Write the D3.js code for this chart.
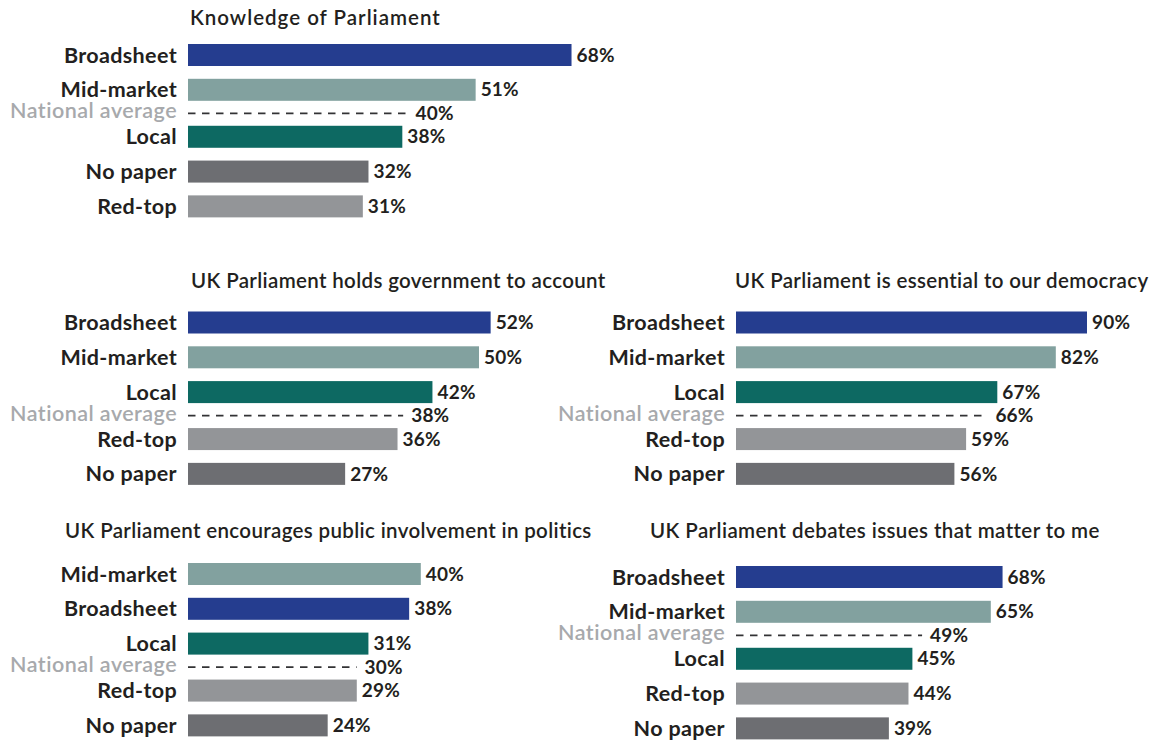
<!DOCTYPE html>
<html>
<head>
<meta charset="utf-8">
<script src="https://cdn.jsdelivr.net/npm/d3@7"></script>
<style>
  html, body { margin: 0; padding: 0; background: #ffffff; }
  svg { display: block; }
  text { font-family: Lato, "Open Sans", sans-serif; }
</style>
</head>
<body>
<svg id="chart" width="1159" height="740"></svg>
<script>
// ---- data ----
const AVG = "National average";

const knowledgeTitle = "Knowledge of Parliament";
const knowledgeCats = ["Broadsheet", "Mid-market", AVG, "Local", "No paper", "Red-top"];
const knowledgeVals = [68, 51, 40, 38, 32, 31];

const accountTitle = "UK Parliament holds government to account";
const accountCats = ["Broadsheet", "Mid-market", "Local", AVG, "Red-top", "No paper"];
const accountVals = [52, 50, 42, 38, 36, 27];

const essentialTitle = "UK Parliament is essential to our democracy";
const essentialCats = ["Broadsheet", "Mid-market", "Local", AVG, "Red-top", "No paper"];
const essentialVals = [90, 82, 67, 66, 59, 56];

const involveTitle = "UK Parliament encourages public involvement in politics";
const involveCats = ["Mid-market", "Broadsheet", "Local", AVG, "Red-top", "No paper"];
const involveVals = [40, 38, 31, 30, 29, 24];

const debatesTitle = "UK Parliament debates issues that matter to me";
const debatesCats = ["Broadsheet", "Mid-market", AVG, "Local", "Red-top", "No paper"];
const debatesVals = [68, 65, 49, 45, 44, 39];

const colors = {
  "Broadsheet": "#253d8f",
  "Mid-market": "#82a19f",
  "Local": "#0d6962",
  "No paper": "#6d6e72",
  "Red-top": "#939598"
};

// ---- layout ----
const panels = [
  { title: knowledgeTitle, cats: knowledgeCats, vals: knowledgeVals, x0: 188, full: 564, titleX: 190, titleY: 25, y0: 55, titleLS: 1.0 },
  { title: accountTitle, cats: accountCats, vals: accountVals, x0: 188, full: 582, titleX: 191, titleY: 288, y0: 322.5, titleLS: 0.35 },
  { title: essentialTitle, cats: essentialCats, vals: essentialVals, x0: 736, full: 390, titleX: 735, titleY: 288, y0: 322.5, titleLS: 0.35 },
  { title: involveTitle, cats: involveCats, vals: involveVals, x0: 188, full: 582, titleX: 65, titleY: 538, y0: 574, titleLS: 0.35 },
  { title: debatesTitle, cats: debatesCats, vals: debatesVals, x0: 736, full: 392, titleX: 650, titleY: 538, y0: 577, titleLS: 0.4 }
];

const svg = d3.select("#chart");
const rowStep = 34.8, barH = 22, avgGap = 0.675;
const textColor = "#231f20";

panels.forEach(p => {
  const x = d3.scaleLinear().domain([0, 100]).range([p.x0, p.x0 + p.full]);
  // slot positions: bars one slot apart, average line sits in a smaller gap
  let slot = 0;
  const rows = p.cats.map((c, i) => {
    if (i > 0) {
      const prevAvg = p.cats[i - 1] === AVG;
      slot += (c === AVG || prevAvg) ? avgGap : 1;
    }
    return { cat: c, val: p.vals[i], slot: slot };
  });
  const y = d3.scaleLinear().domain([0, 1]).range([p.y0, p.y0 + rowStep]);

  const g = svg.append("g");

  g.append("text")
    .attr("x", p.titleX).attr("y", p.titleY)
    .attr("font-size", 20.5).attr("font-weight", 600)
    .attr("letter-spacing", p.titleLS)
    .attr("fill", textColor)
    .text(p.title);

  const bars = rows.filter(r => r.cat !== AVG);
  const avg = rows.find(r => r.cat === AVG);

  g.selectAll("rect.bar").data(bars).join("rect")
    .attr("class", "bar")
    .attr("x", x(0))
    .attr("y", d => y(d.slot) - barH / 2)
    .attr("width", d => x(d.val) - x(0))
    .attr("height", barH)
    .attr("fill", d => colors[d.cat]);

  g.selectAll("text.cat").data(bars).join("text")
    .attr("class", "cat")
    .attr("x", x(0) - 11)
    .attr("y", d => y(d.slot))
    .attr("dy", "0.35em")
    .attr("text-anchor", "end")
    .attr("font-size", 21.5).attr("font-weight", 700)
    .attr("letter-spacing", 0.35)
    .attr("fill", textColor)
    .text(d => d.cat);

  g.selectAll("text.val").data(bars).join("text")
    .attr("class", "val")
    .attr("x", d => x(d.val) + 5)
    .attr("y", d => y(d.slot))
    .attr("dy", "0.35em")
    .attr("font-size", 19).attr("font-weight", 700)
    .attr("letter-spacing", 0.2)
    .attr("fill", textColor)
    .text(d => d.val + "%");

  // national average
  g.append("line")
    .attr("x1", x(0)).attr("x2", x(avg.val) - 6)
    .attr("y1", y(avg.slot)).attr("y2", y(avg.slot))
    .attr("stroke", "#333335").attr("stroke-width", 1.7)
    .attr("stroke-dasharray", "7.5,6.5");

  g.append("text")
    .attr("x", x(0) - 11)
    .attr("y", y(avg.slot) - 2.5)
    .attr("dy", "0.35em")
    .attr("text-anchor", "end")
    .attr("font-size", 21.5).attr("font-weight", 600)
    .attr("letter-spacing", 0.45)
    .attr("fill", "#a7a9ac")
    .text(AVG);

  g.append("text")
    .attr("x", x(avg.val) + 2)
    .attr("y", y(avg.slot))
    .attr("dy", "0.35em")
    .attr("font-size", 19).attr("font-weight", 700)
    .attr("letter-spacing", 0.2)
    .attr("fill", textColor)
    .text(avg.val + "%");
});
</script>
</body>
</html>
